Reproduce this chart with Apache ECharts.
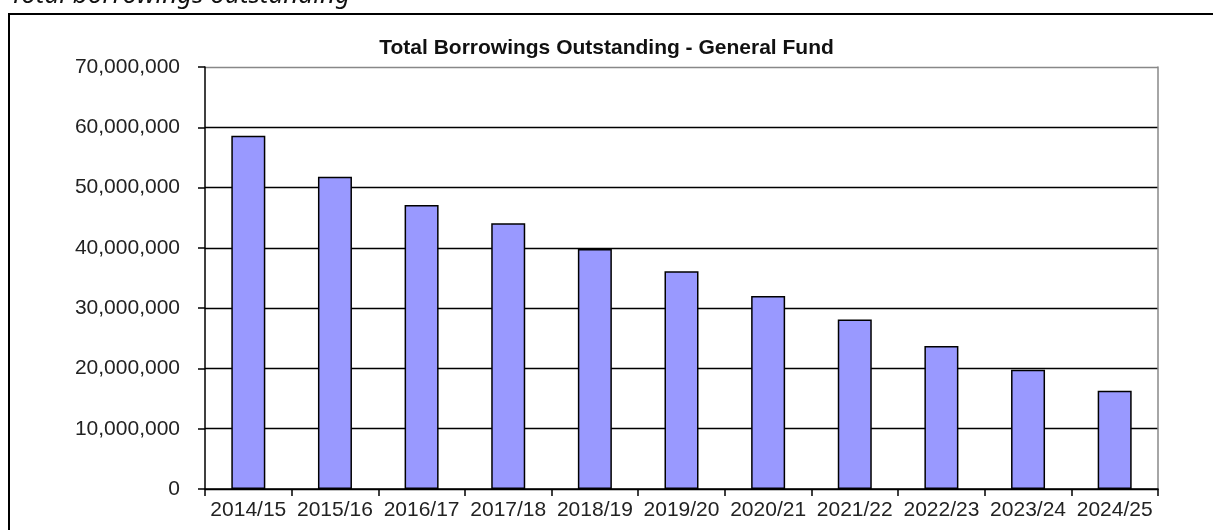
<!DOCTYPE html>
<html>
<head>
<meta charset="utf-8">
<script src="https://cdn.jsdelivr.net/npm/echarts@6/dist/echarts.min.js"></script>
<style>
html,body{margin:0;padding:0;background:#fff;overflow:hidden;}
#chart{width:1213px;height:530px;}
</style>
</head>
<body>
<div id="chart"></div>
<script>
const categories = ['2014/15','2015/16','2016/17','2017/18','2018/19','2019/20','2020/21','2021/22','2022/23','2023/24','2024/25'];
const borrowings = [58600000, 51800000, 47100000, 44100000, 39800000, 36100000, 32000000, 28100000, 23700000, 19800000, 16300000];
const yTicks = [0, 10000000, 20000000, 30000000, 40000000, 50000000, 60000000, 70000000];
const chartTitle = 'Total Borrowings Outstanding - General Fund';
const sectionHeading = 'Total borrowings outstanding';

const chart = echarts.init(document.getElementById('chart'), null, {renderer:'canvas'});
const fmt = v => v.toLocaleString('en-GB');
chart.setOption({
  animation: false,
  backgroundColor: '#fff',
  title: {
    text: chartTitle,
    left: 'center',
    top: 33,
    textStyle: {fontFamily: 'Liberation Sans', fontWeight: 'bold', fontSize: 21, color: '#111'}
  },
  graphic: [
    {type:'rect', shape:{x:9, y:14, width:1250, height:600}, style:{fill:'none', stroke:'#000', lineWidth:2}, silent:true},
    {type:'text', left:10, top:-17, style:{text: sectionHeading, font:'italic 26px "Noto Sans"', fill:'#111'}, silent:true}
  ],
  grid: {left:205, right:55, top:67, bottom:41, containLabel:false},
  xAxis: {
    type:'category',
    data: categories,
    boundaryGap: true,
    axisLine:{show:true, lineStyle:{color:'#000', width:1.5}},
    axisTick:{show:true, alignWithLabel:false, length:7, lineStyle:{color:'#000', width:1.5}},
    axisLabel:{fontFamily:'Liberation Sans', fontSize:21, color:'#222', margin:11, interval:0},
    splitLine:{show:false}
  },
  yAxis: [{
    type:'value',
    min: yTicks[0],
    max: yTicks[yTicks.length-1],
    interval: yTicks[1]-yTicks[0],
    axisLine:{show:true, lineStyle:{color:'#000', width:1.5}},
    axisTick:{show:true, inside:false, length:7, lineStyle:{color:'#000', width:1.5}},
    axisLabel:{fontFamily:'Liberation Sans', fontSize:21, color:'#222', margin:25, formatter: v => fmt(v)},
    splitLine:{show:true, lineStyle:{color:['#000','#000','#000','#000','#000','#000','#000','#888'], width:1.3}}
  },{
    type:'value',
    position:'right',
    min: yTicks[0],
    max: yTicks[yTicks.length-1],
    interval: yTicks[1]-yTicks[0],
    axisLine:{show:true, lineStyle:{color:'#888', width:1.5}},
    axisTick:{show:false},
    axisLabel:{show:false},
    splitLine:{show:false}
  }],
  series: [{
    type:'bar',
    data: borrowings,
    barWidth: 34,
    itemStyle:{color:'#9999FF', borderColor:'#000', borderWidth:1.5}
  }]
});
</script>
</body>
</html>
